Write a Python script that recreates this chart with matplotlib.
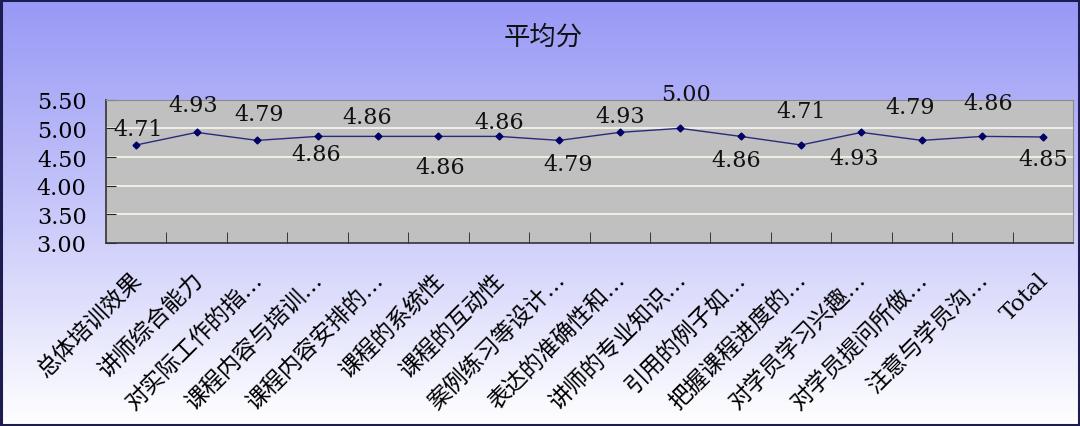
import numpy as np
import matplotlib
matplotlib.use("Agg")
import matplotlib.pyplot as plt
from matplotlib.colors import LinearSegmentedColormap
from matplotlib.patches import Rectangle
from matplotlib.transforms import ScaledTranslation


# ── Data ───────────────────────────────────────────────────────────────────────

CATEGORIES = [
    "总体培训效果", "讲师综合能力", "对实际工作的指…", "课程内容与培训…",
    "课程内容安排的…", "课程的系统性", "课程的互动性", "案例练习等设计…",
    "表达的准确性和…", "讲师的专业知识…", "引用的例子如…", "把握课程进度的…",
    "对学员学习兴趣…", "对学员提问所做…", "注意与学员沟…", "Total",
]
SCORES = [4.71, 4.93, 4.79, 4.86, 4.86, 4.86, 4.86, 4.79,
          4.93, 5.00, 4.86, 4.71, 4.93, 4.79, 4.86, 4.85]
Y_TICKS = [3.00, 3.50, 4.00, 4.50, 5.00, 5.50]
TITLE = "平均分"

# label offsets (pixels) relative to each point, mimicking Excel's placement
LABEL_DX = [2, -3, 2, -1, -11, 2, 0, 9, 0, 6, -4, 0, -7, -12, 6, 0]
LABEL_DY = [16, 27, 26, -18, 19, -31, 14, -24, 16, 34, -24, 34, -26, 33, 33, -22]

NUM_FONT = "DejaVu Serif"
CJK_FONT = ["DejaVu Serif", "Noto Sans CJK SC"]
LINE_COLOUR = "#2a2a7c"
PLOT_BG = "#c0c0c0"
GRID_COLOUR = "#f4f4e6"


# ── Figure ─────────────────────────────────────────────────────────────────────

fig = plt.figure(figsize=(10.8, 4.27), dpi=100)

# gradient background
bg = fig.add_axes([0, 0, 1, 1], zorder=-10)
cmap = LinearSegmentedColormap.from_list("bg", ["#9898f6", "#c8c8fa", "#ffffff"])
bg.imshow(np.linspace(0, 1, 256).reshape(-1, 1), cmap=cmap, aspect="auto",
          extent=[0, 1, 0, 1], origin="upper")
bg.axis("off")

fig.patches.append(Rectangle((0.001, 0.003), 0.998, 0.995, transform=fig.transFigure,
                             fill=False, edgecolor="#1c1c50", lw=2.2))

ax = fig.add_axes([106 / 1080, 1 - 244 / 427, 967 / 1080, 143.3 / 427])
ax.set_facecolor(PLOT_BG)

x = np.arange(len(CATEGORIES))
ax.plot(x, SCORES, color=LINE_COLOUR, lw=1.0, marker="D", ms=3.5,
        mfc="#000066", mec="#000066", zorder=3)

for xi, v, dx, dy in zip(x, SCORES, LABEL_DX, LABEL_DY):
    ax.annotate(f"{v:.2f}", (xi, v), xytext=(dx, dy), textcoords="offset pixels",
                ha="center", va="center", fontsize=16, family=NUM_FONT,
                color="#111111", zorder=4)

ax.set_ylim(3.0, 5.5)
ax.set_xlim(-0.5, len(CATEGORIES) - 0.5)
ax.set_yticks(Y_TICKS)
ax.set_yticklabels([f"{t:.2f}" for t in Y_TICKS], family=NUM_FONT, fontsize=16)
for t in Y_TICKS[1:-1]:
    ax.axhline(t, color=GRID_COLOUR, lw=1.3, zorder=1)

ax.set_xticks(x)
ax.set_xticklabels(CATEGORIES, rotation=45, ha="right", fontsize=16.5, family=CJK_FONT)
ax.set_xticks(x[:-1] + 0.5, minor=True)
ax.tick_params(axis="x", which="major", length=0, pad=18)
ax.tick_params(axis="x", which="minor", direction="in", length=8, color="#222222")
ax.tick_params(axis="y", direction="in", length=7, pad=14, color="#222222")
shift = ScaledTranslation(10 / 100, 0, fig.dpi_scale_trans)
for lbl in ax.get_xticklabels():
    lbl.set_transform(lbl.get_transform() + shift)

for side in ("left", "bottom"):
    ax.spines[side].set_color("#333333")
    ax.spines[side].set_linewidth(1.2)
for side in ("top", "right"):
    ax.spines[side].set_color("#8a8a8a")
    ax.spines[side].set_linewidth(0.8)

fig.text(543 / 1080, 1 - 37 / 427, TITLE, ha="center", va="center", fontsize=19,
         family=["Noto Sans CJK SC", "DejaVu Sans"], color="#111111")

fig.savefig("out.png", dpi=100)
